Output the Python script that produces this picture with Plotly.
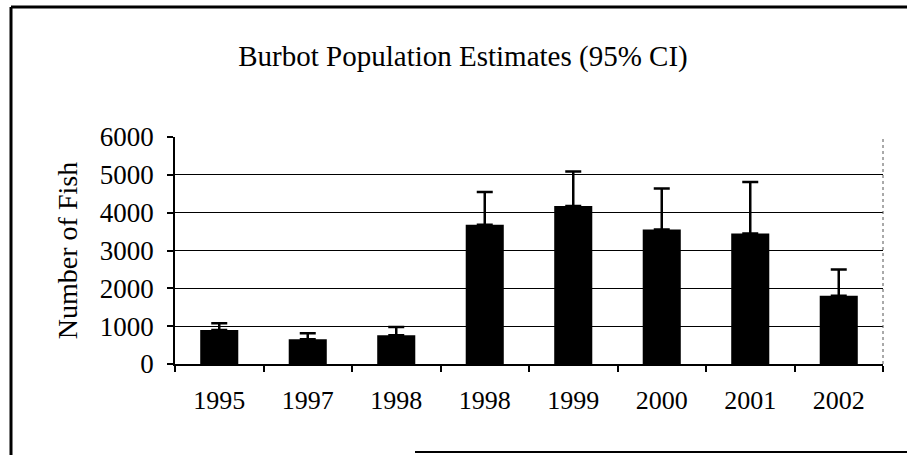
import plotly.graph_objects as go

# survey years (1998 was sampled twice)
years = ["1995", "1997", "1998", "1998", "1999", "2000", "2001", "2002"]
estimates = [900, 655, 760, 3680, 4175, 3555, 3450, 1805]
upper_ci = [1080, 815, 980, 4545, 5085, 4640, 4810, 2495]
y_ticks = [0, 1000, 2000, 3000, 4000, 5000, 6000]

W, H = 907, 455
ML, MR, MT, MB = 175, 24, 137, 91
PW, PH = W - ML - MR, H - MT - MB


def px_x(p):
    return (p - ML) / PW


def px_y(p):
    return (H - MB - p) / PH


pos = list(range(len(years)))
err_up = [u - v for u, v in zip(upper_ci, estimates)]

font_family = "Liberation Serif, Times New Roman, serif"

fig = go.Figure()
fig.add_trace(go.Bar(
    x=pos,
    y=estimates,
    marker=dict(color="black", line=dict(width=0)),
    width=0.43,
    error_y=dict(
        type="data",
        symmetric=False,
        array=err_up,
        arrayminus=[0] * len(err_up),
        color="black",
        thickness=2.5,
        width=8,
    ),
    hoverinfo="none",
))

fig.update_layout(
    width=W,
    height=H,
    margin=dict(l=ML, r=MR, t=MT, b=MB),
    paper_bgcolor="white",
    plot_bgcolor="white",
    showlegend=False,
    font=dict(family=font_family, color="black", size=26),
    title=dict(
        text="Burbot Population Estimates (95% CI)",
        font=dict(family=font_family, size=29, color="black"),
        xref="container", x=463 / W, xanchor="center",
        yref="container", y=1 - 56 / H, yanchor="middle",
    ),
    xaxis=dict(
        range=[-0.5, len(years) - 0.5],
        tickvals=pos,
        ticktext=years,
        ticks="",
        showgrid=False,
        showline=True,
        linecolor="black",
        linewidth=1.5,
        tickfont=dict(size=26),
        ticklabelstandoff=12,
        minor=dict(
            tickvals=[p - 0.5 for p in pos] + [len(years) - 0.5],
            ticks="outside",
            ticklen=6,
            tickcolor="black",
            tickwidth=1.5,
            showgrid=False,
        ),
        zeroline=False,
        fixedrange=True,
    ),
    yaxis=dict(
        range=[0, 6000],
        tickvals=y_ticks,
        ticks="outside",
        ticklen=6,
        tickcolor="black",
        tickwidth=1.5,
        ticklabelstandoff=8,
        showgrid=True,
        gridcolor="black",
        gridwidth=1.2,
        showline=True,
        linecolor="black",
        linewidth=1.5,
        zeroline=False,
        tickfont=dict(size=27),
        title=dict(text="Number of Fish", font=dict(size=28), standoff=14),
        fixedrange=True,
    ),
)

# right border of plot area (thin, grey)
fig.add_shape(type="line", xref="paper", yref="paper",
              x0=1, x1=1, y0=0, y1=1,
              line=dict(color="#555555", width=1, dash="dot"))

# outer frame of the scanned chart
fig.add_shape(type="line", xref="paper", yref="paper",
              x0=px_x(11), x1=px_x(11), y0=px_y(7), y1=px_y(455),
              line=dict(color="black", width=3))
fig.add_shape(type="line", xref="paper", yref="paper",
              x0=px_x(11), x1=px_x(907), y0=px_y(7), y1=px_y(7),
              line=dict(color="black", width=3))
fig.add_shape(type="line", xref="paper", yref="paper",
              x0=px_x(415), x1=px_x(907), y0=px_y(452), y1=px_y(452),
              line=dict(color="black", width=2))

# drop the default body margin so the figure fills the window exactly
fig.write_html("out.html", config=dict(displayModeBar=False),
               post_script="document.body.style.margin='0';")
